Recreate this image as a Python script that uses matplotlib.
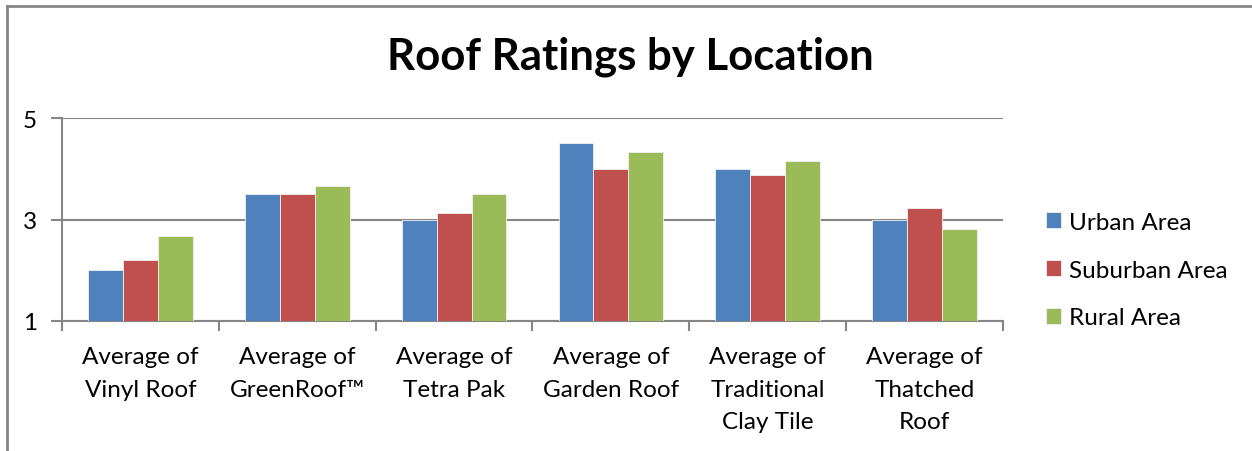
import numpy as np
import matplotlib
matplotlib.use("Agg")
import matplotlib.pyplot as plt
from matplotlib.lines import Line2D

plt.rcParams['font.family'] = ['Lato', 'DejaVu Sans']

categories = ["Average of\nVinyl Roof", "Average of\nGreenRoof\u2122", "Average of\nTetra Pak",
              "Average of\nGarden Roof", "Average of\nTraditional\nClay Tile", "Average of\nThatched\nRoof"]
series_names = ["Urban Area", "Suburban Area", "Rural Area"]
urban = [2.0, 3.5, 3.0, 4.5, 4.0, 3.0]
suburban = [2.2, 3.5, 3.13, 4.0, 3.88, 3.23]
rural = [2.67, 3.66, 3.5, 4.33, 4.15, 2.82]
colors = ["#4F81BD", "#C0504D", "#9BBB59"]

fig = plt.figure(figsize=(12.52, 4.52), dpi=100)
ax = fig.add_axes([62/1252, 1-322/452, (1003-62)/1252, (322-119)/452])

x = np.arange(len(categories))
w = 1/4.5
for i, (vals, name) in enumerate(zip([urban, suburban, rural], series_names)):
    ax.bar(x + (i-1)*w, np.array(vals) - 1, width=w, bottom=1, color=colors[i],
           label=name, edgecolor="#f2f2f2", linewidth=0.6, zorder=3)

ax.set_xlim(-0.5, len(categories)-0.5)
ax.set_ylim(1, 5)
ax.set_yticks([1, 3, 5])
ax.set_xticks(np.arange(len(categories)+1) - 0.5)
ax.set_xticklabels([])
ax.set_xticks(x, minor=True)
ax.set_xticklabels(categories, minor=True, fontsize=17.5, linespacing=1.68)
ax.tick_params(axis='x', which='minor', length=0, pad=18)
ax.tick_params(axis='x', which='major', length=7, width=1.5, color="#868686", direction='out')
ax.tick_params(axis='y', length=8, width=1.5, color="#868686", labelsize=17.5, pad=10)
ax.grid(axis='y', color="#868686", linewidth=1.5, zorder=0)
for s in ['top', 'right']:
    ax.spines[s].set_visible(False)
for s in ['left', 'bottom']:
    ax.spines[s].set_color("#868686")
    ax.spines[s].set_linewidth(1.5)

fig.suptitle("Roof Ratings by Location", fontsize=31.5, fontweight='bold', x=630/1252, y=1-57/452, va='center')

fig.legend(loc='center left', bbox_to_anchor=(1024/1252, 1-271/452), frameon=False, fontsize=17.5,
           handlelength=0.62, handleheight=0.62, handletextpad=0.35, labelspacing=1.1)

fig.add_artist(Line2D([7/1252, 7/1252], [0, 1-7/452], color="#868686", linewidth=2))
fig.add_artist(Line2D([7/1252, 1], [1-7/452, 1-7/452], color="#868686", linewidth=2))

fig.savefig("out.png", dpi=100)
